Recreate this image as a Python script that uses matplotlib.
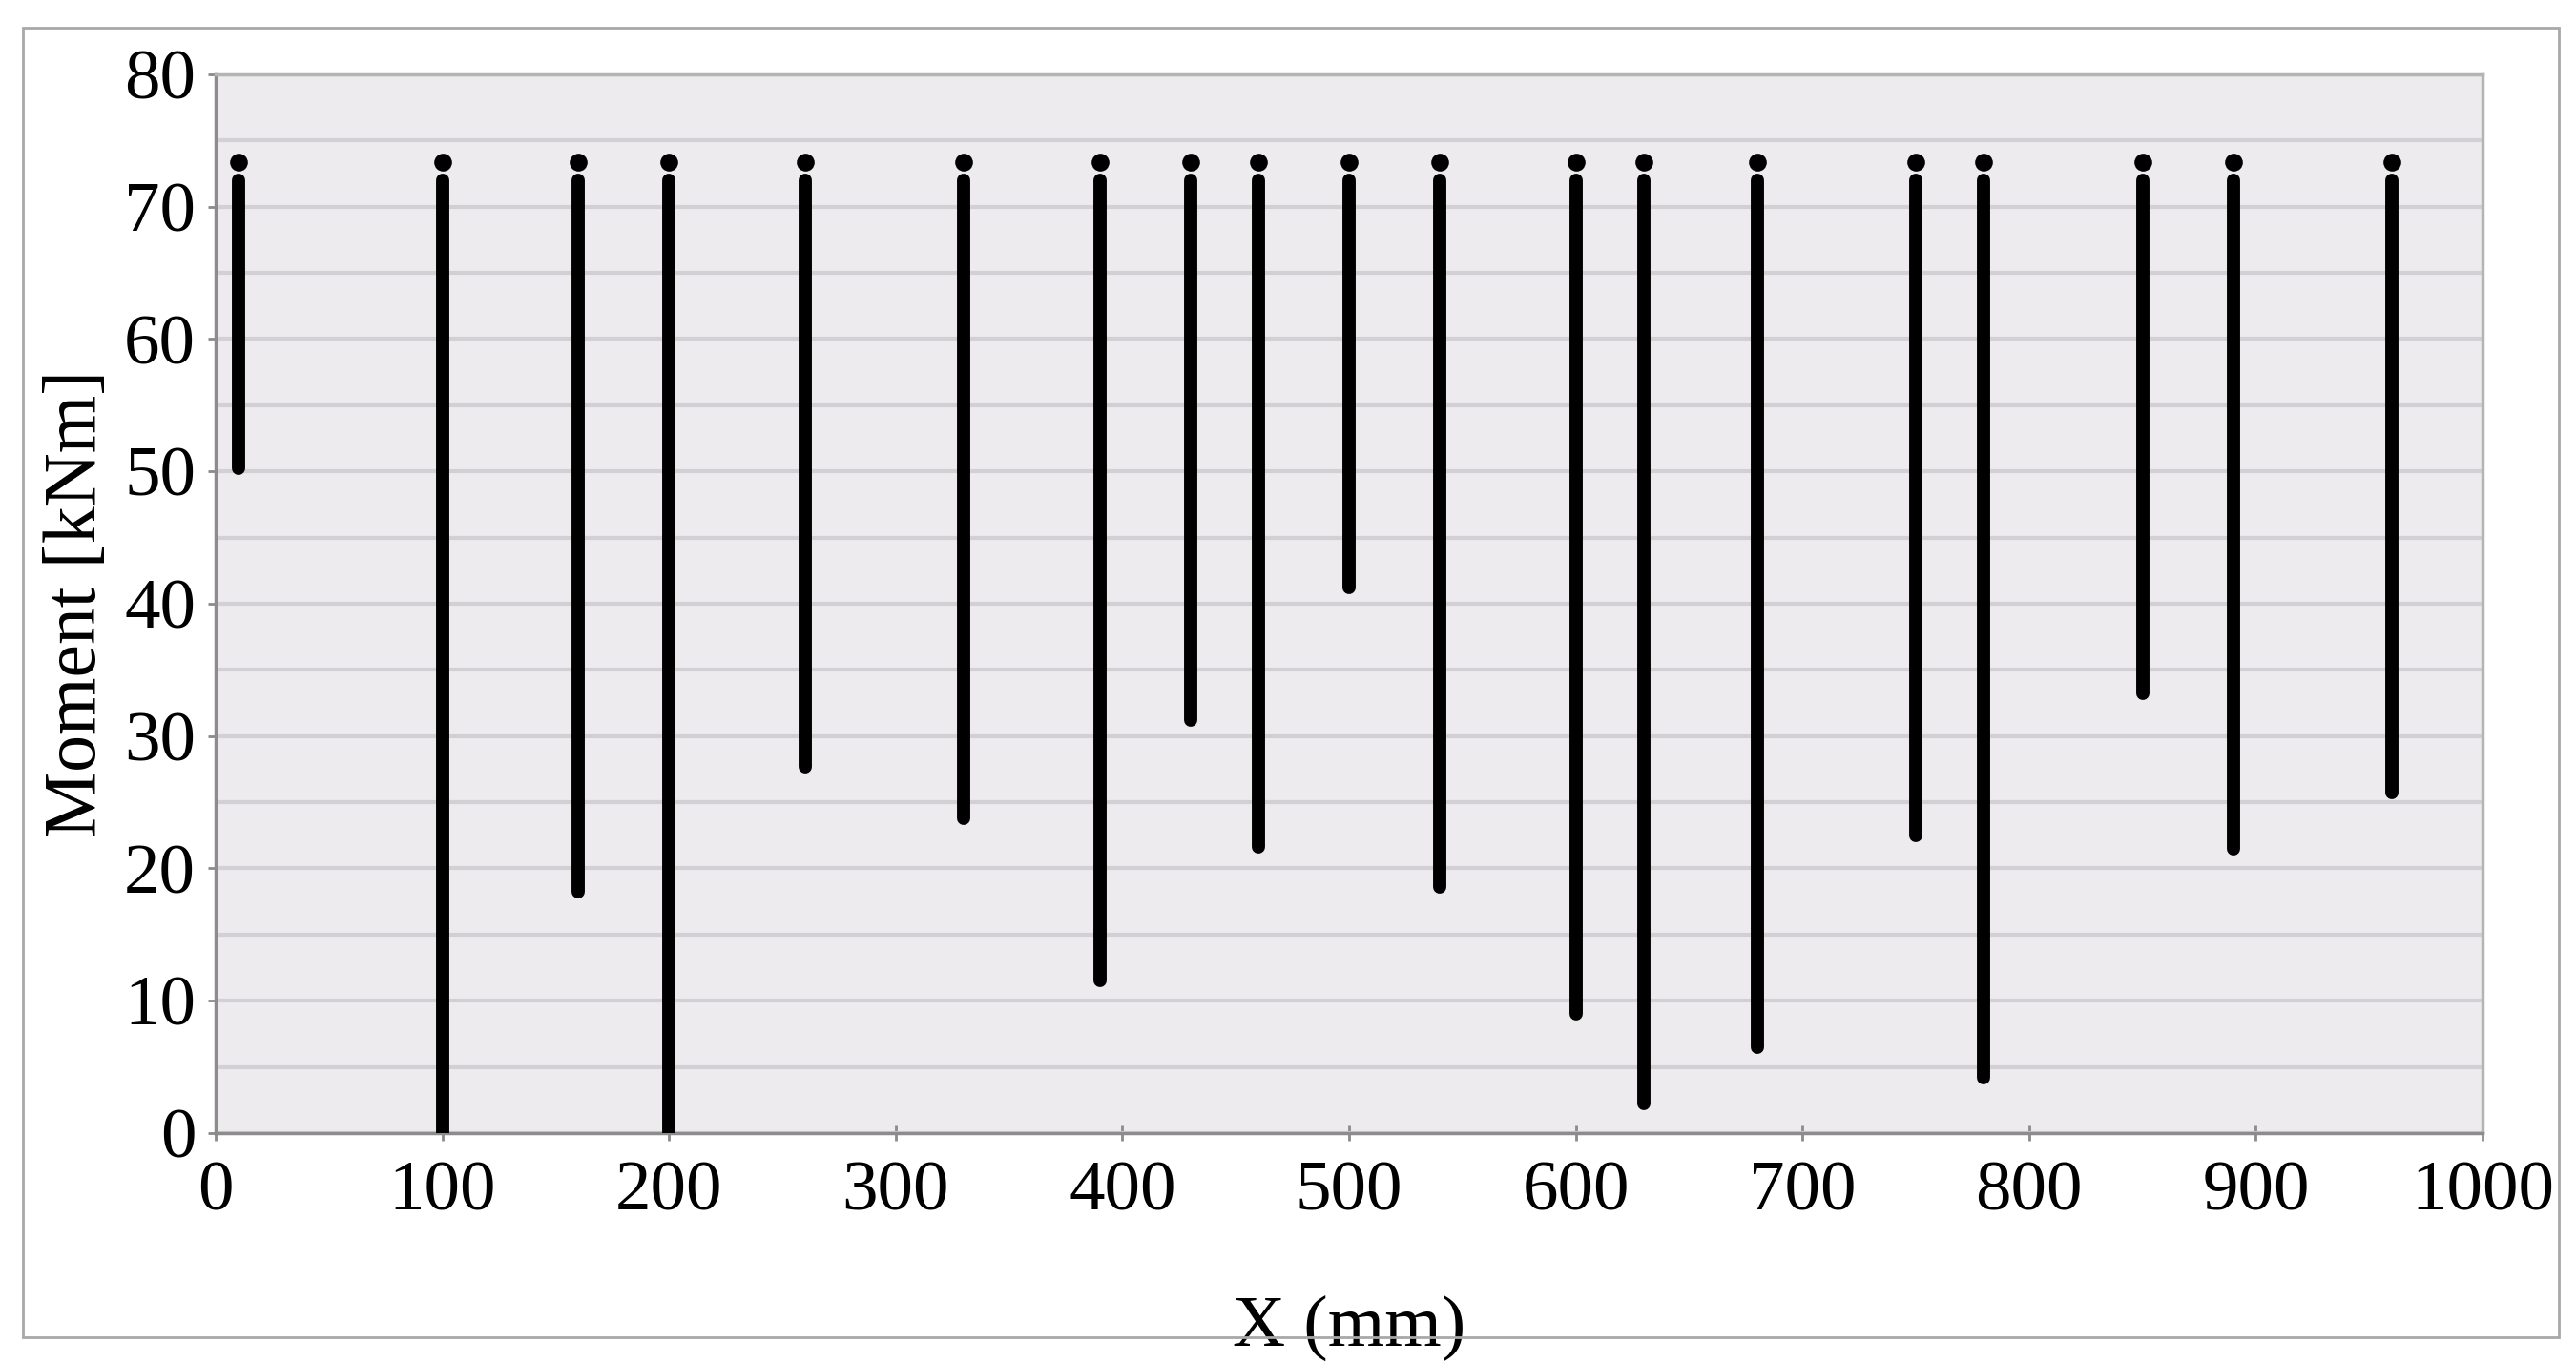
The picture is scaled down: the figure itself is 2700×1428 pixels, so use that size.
import matplotlib.pyplot as plt
from matplotlib.patches import Rectangle
from matplotlib.ticker import MultipleLocator

# section positions along the beam and the lowest moment reached at each
x_mm = [10, 100, 160, 200, 260, 330, 390, 430, 460, 500,
        540, 600, 630, 680, 750, 780, 850, 890, 960]
m_min = [50.2, 0.0, 18.2, 0.0, 27.7, 23.8, 11.5, 31.2, 21.6, 41.2,
         18.6, 9.0, 2.2, 6.5, 22.5, 4.2, 33.2, 21.5, 25.7]
m_upper = 72.0   # top of the continuous band
m_top = 73.4     # last isolated point at the top

x_ticks = [0, 100, 200, 300, 400, 500, 600, 700, 800, 900, 1000]
y_ticks = [0, 10, 20, 30, 40, 50, 60, 70, 80]

plt.rcParams["font.family"] = ["Liberation Serif", "DejaVu Serif"]

fig = plt.figure(figsize=(27, 14.28), dpi=100)
ax = fig.add_axes([0.0837, 0.1681, 0.88, 0.7773])

# outer border round the whole chart
fig.patches.append(Rectangle((0.0089, 0.0182), 0.9844, 0.9615,
                             transform=fig.transFigure, fill=False,
                             edgecolor="#a8a8a8", linewidth=2))

ax.set_facecolor("#edebee")
for xi, lo in zip(x_mm, m_min):
    ax.plot([xi, xi], [lo, m_upper], color="black", linewidth=10,
            solid_capstyle="round", zorder=3)
ax.scatter(x_mm, [m_top] * len(x_mm), s=180, color="black", zorder=3,
           linewidths=0)

ax.set_xlim(0, 1000)
ax.set_ylim(0, 80)
ax.set_xticks(x_ticks)
ax.set_yticks(y_ticks)
ax.yaxis.set_minor_locator(MultipleLocator(5))
ax.grid(True, which="both", axis="y", color="#d2d0d4", linewidth=3, zorder=0)
ax.set_axisbelow(True)

ax.tick_params(axis="both", labelsize=54, colors="#8a8a8a",
               labelcolor="black", width=2)
ax.tick_params(axis="x", direction="inout", length=12, pad=15)
ax.tick_params(axis="y", direction="out", length=6, pad=9)
ax.tick_params(axis="y", which="minor", length=0)

for side in ["left", "bottom"]:
    ax.spines[side].set_color("#8c8c8c")
    ax.spines[side].set_linewidth(2.5)
for side in ["top", "right"]:
    ax.spines[side].set_color("#b4b4b4")
    ax.spines[side].set_linewidth(2.5)

ax.set_xlabel("X (mm)", fontsize=55)
ax.set_ylabel("Moment [kNm]", fontsize=56)
ax.xaxis.set_label_coords(0.5, -0.153)
ax.yaxis.set_label_coords(-0.046, 0.5)

fig.savefig("out.png", dpi=100)
plt.close(fig)
